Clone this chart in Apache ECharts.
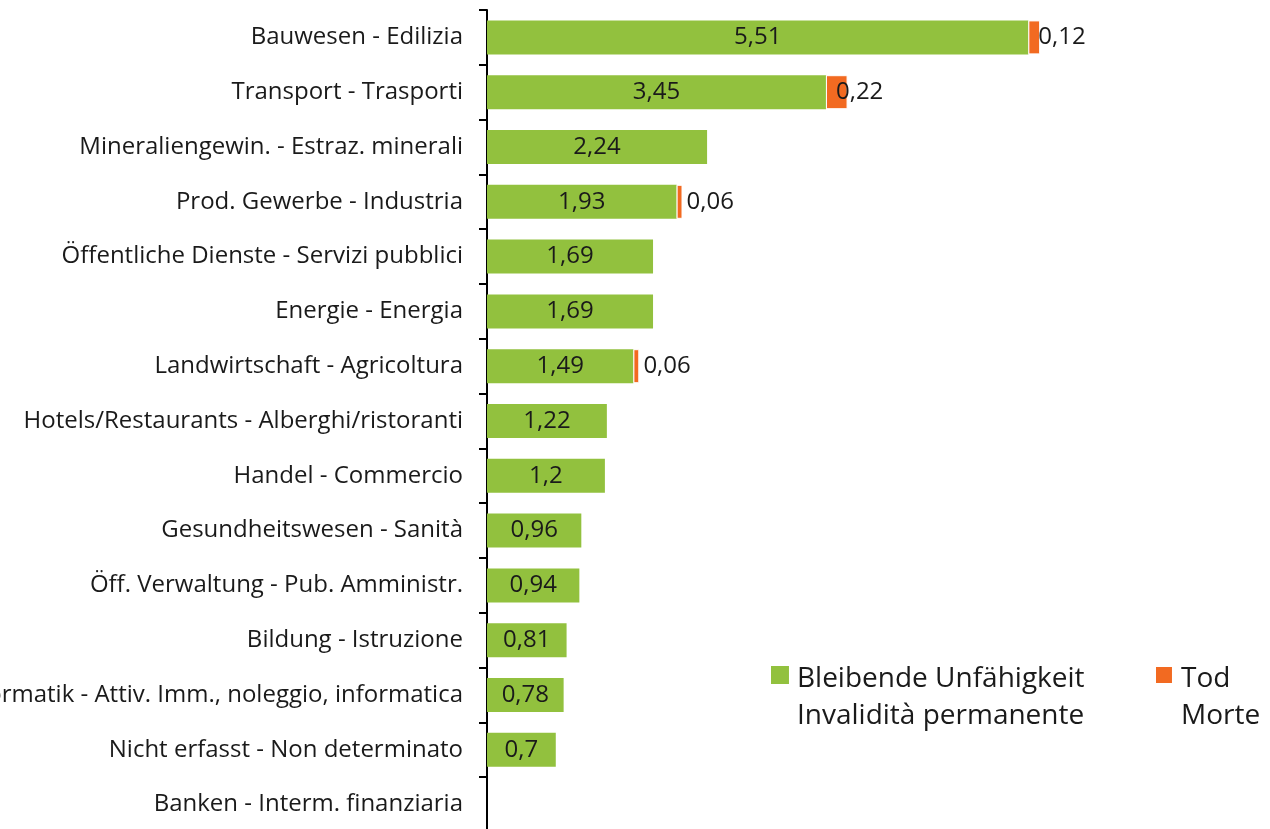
<!DOCTYPE html>
<html>
<head>
<meta charset="utf-8">
<script src="https://cdn.jsdelivr.net/npm/echarts@6/dist/echarts.min.js"></script>
<style>
  html, body { margin: 0; padding: 0; background: #fff; }
  #chart { width: 1270px; height: 829px; }
</style>
</head>
<body>
<div id="chart"></div>
<script>
  var categories = [
    'Bauwesen - Edilizia',
    'Transport - Trasporti',
    'Mineraliengewin. - Estraz. minerali',
    'Prod. Gewerbe - Industria',
    'Öffentliche Dienste - Servizi pubblici',
    'Energie - Energia',
    'Landwirtschaft - Agricoltura',
    'Hotels/Restaurants - Alberghi/ristoranti',
    'Handel - Commercio',
    'Gesundheitswesen - Sanità',
    'Öff. Verwaltung - Pub. Amministr.',
    'Bildung - Istruzione',
    'Immobilien, Vermietung, Informatik - Attiv. Imm., noleggio, informatica',
    'Nicht erfasst - Non determinato',
    'Banken - Interm. finanziaria'
  ];
  var invalidita = [5.51, 3.45, 2.24, 1.93, 1.69, 1.69, 1.49, 1.22, 1.2, 0.96, 0.94, 0.81, 0.78, 0.7, null];
  var morte = [0.12, 0.22, null, 0.06, null, null, 0.06, null, null, null, null, null, null, null, null];
  var seriesNames = ['Bleibende Unfähigkeit\nInvalidità permanente', 'Tod\nMorte'];

  var FONT = '"Open Sans", sans-serif';
  function fmt(p) { return String(p.value).replace('.', ','); }

  // square on top of a taller (empty) box so it lines up with the first text line
  var legendIcon = 'path://M0,0H18V18H0Z M0,64H0.1V64.1H0Z';
  function makeLegend(name, left) {
    return {
      left: left,
      top: 656,
      icon: legendIcon,
      itemWidth: 18,
      itemHeight: 64,
      textStyle: { fontFamily: FONT, fontSize: 28, color: '#1a1a1a', lineHeight: 37, padding: [0, 0, 0, 3] },
      data: [name]
    };
  }

  var myChart = echarts.init(document.getElementById('chart'));
  var option = {
    animation: false,
    color: ['#92c13e', '#f26a21'],
    grid: { left: 487, right: -3, top: 10, height: 822, outerBoundsMode: 'none', containLabel: false },
    legend: [makeLegend(seriesNames[0], 766), makeLegend(seriesNames[1], 1149)],
    xAxis: {
      type: 'value', min: 0, max: 8, show: false
    },
    yAxis: {
      type: 'category',
      inverse: true,
      data: categories,
      axisLine: { show: true, lineStyle: { color: '#000', width: 2 } },
      axisTick: { show: true, length: 8, lineStyle: { color: '#000', width: 2 } },
      axisLabel: { fontFamily: FONT, fontSize: 24, color: '#1a1a1a', margin: 24 }
    },
    series: [
      {
        name: seriesNames[0],
        type: 'bar', stack: 'a', barWidth: 34,
        data: invalidita,
        label: { show: true, position: 'inside', formatter: fmt, fontFamily: FONT, fontSize: 24, color: '#1a1a1a' }
      },
      {
        name: seriesNames[1],
        type: 'bar', stack: 'a', barWidth: 34,
        data: morte,
        itemStyle: { borderColor: '#fff', borderWidth: 1 },
        label: { show: true, position: 'insideLeft', distance: 10, formatter: fmt, fontFamily: FONT, fontSize: 24, color: '#1a1a1a' }
      }
    ]
  };
  myChart.setOption(option);
</script>
</body>
</html>
